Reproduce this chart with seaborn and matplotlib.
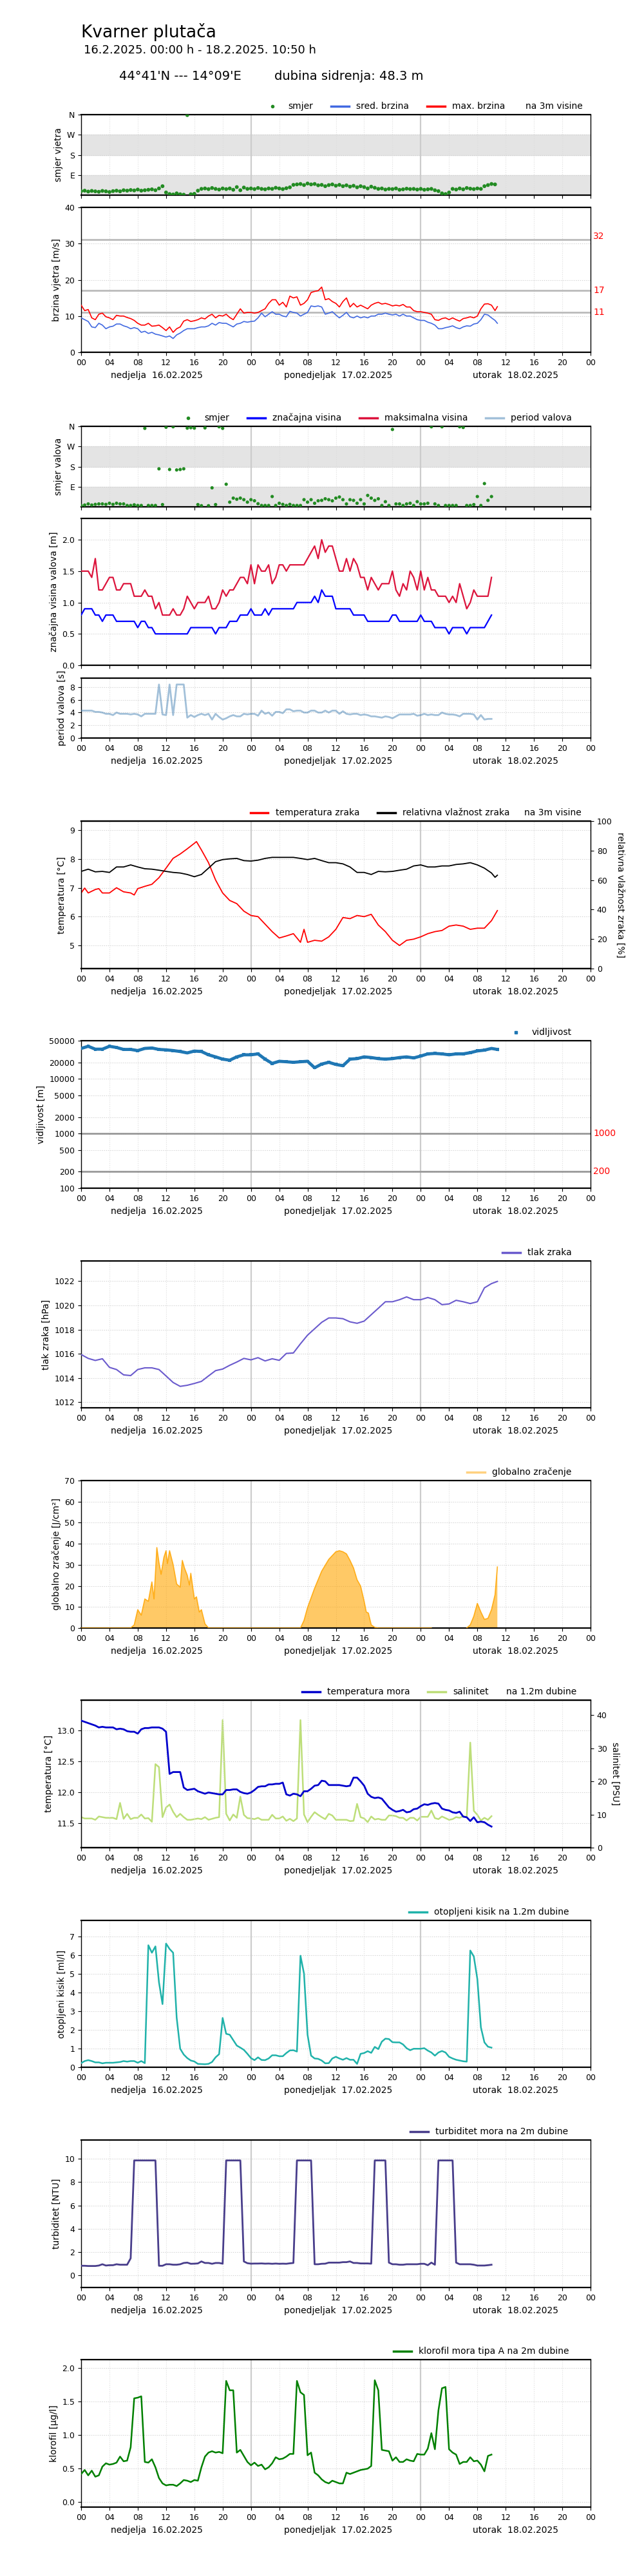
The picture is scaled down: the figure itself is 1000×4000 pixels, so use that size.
import numpy as np
import matplotlib
matplotlib.use("Agg")
import matplotlib.pyplot as plt
import matplotlib.transforms as mtransforms
from matplotlib.lines import Line2D
from matplotlib.ticker import NullLocator
import seaborn as sns

# ---------------- data (hours from 16.02.2025 00:00) ----------------
wind_h = list(np.arange(0, 59, 0.5)) + [58.83]
wind_max = [13.0, 11.5, 11.8, 9.5, 9.0, 10.5, 10.8, 9.8, 9.5, 9.0, 10.2, 10.0, 10.0, 9.6, 9.3, 8.8,
            8.0, 7.5, 7.5, 8.0, 7.2, 7.3, 7.5, 6.8, 6.0, 7.0, 5.5, 6.5, 7.0, 8.6, 9.0, 8.5,
            8.7, 9.0, 9.5, 9.2, 10.0, 10.5, 9.5, 10.2, 10.0, 10.5, 9.6, 9.0, 10.5, 12.0, 10.8, 11.0,
            11.0, 10.8, 11.0, 11.5, 12.0, 13.5, 14.5, 14.5, 13.0, 13.8, 12.5, 15.5, 15.0, 15.3, 13.0, 13.5,
            14.5, 16.5, 16.8, 17.0, 18.0, 14.5, 14.8, 14.0, 13.5, 12.5, 14.0, 15.0, 12.5, 13.5, 12.5, 13.0,
            12.5, 12.0, 13.0, 13.5, 13.8, 13.3, 13.5, 13.2, 12.8, 13.0, 12.8, 13.2, 12.5, 12.5, 11.5, 11.2,
            11.2, 11.0, 10.8, 10.5, 9.0, 8.8, 9.3, 9.5, 9.0, 9.5, 9.0, 8.6, 9.3, 9.5, 9.8, 9.5,
            10.0, 12.0, 13.3, 13.4, 13.0, 11.5, 12.6]
wind_avg = [9.5, 9.0, 8.5, 7.0, 6.8, 8.0, 7.5, 6.5, 7.0, 7.2, 7.8, 7.8, 7.3, 7.0, 6.5, 6.8,
            6.5, 5.5, 5.8, 5.2, 5.5, 5.0, 4.8, 4.5, 4.2, 4.5, 3.8, 4.8, 5.3, 6.0, 6.5, 6.5,
            6.5, 6.8, 7.0, 7.0, 7.3, 8.0, 7.5, 8.2, 8.0, 8.0, 7.5, 7.0, 7.8, 8.0, 8.5, 8.3,
            8.5, 8.6, 9.5, 10.8, 9.8, 10.5, 11.2, 10.5, 10.5, 10.0, 9.8, 11.3, 11.0, 10.8, 10.0, 10.5,
            11.0, 12.8, 12.6, 12.8, 12.5, 10.5, 10.8, 11.2, 10.3, 9.5, 10.2, 11.0, 9.8, 9.5, 10.0, 9.5,
            9.8, 9.5, 10.0, 10.0, 10.5, 10.5, 10.8, 10.5, 10.3, 10.5, 10.0, 10.5, 10.0, 10.0, 9.5, 9.0,
            8.8, 8.8, 8.3, 8.0, 7.5, 6.5, 6.5, 6.8, 7.0, 7.3, 6.8, 6.5, 7.0, 7.3, 7.2, 7.8,
            8.0, 9.0, 10.5, 10.3, 9.5, 8.8, 8.0]
wind_dir_h = np.arange(0, 59, 0.5)
wind_dir = [18, 20, 16, 19, 17, 15, 19, 17, 14, 18, 20, 17,
            22, 20, 23, 21, 25, 20, 22, 24, 26, 22, 30, 40,
            12, 5, 3, 8, 4, 2, 358, 4, 6,
            20, 28, 30, 27, 32, 28, 25, 30, 27, 30,
            24, 36, 22, 34, 28,
            30, 27, 32, 28, 26, 30, 28, 33, 30, 27, 31, 35,
            46, 48, 50, 45, 52, 48, 50,
            44, 46, 40, 45, 48, 42, 46, 40, 44,
            38, 42, 35, 40, 36, 30, 38, 33,
            28, 30, 25, 28, 27, 30, 24, 26, 29, 27, 28, 25, 28, 24, 26, 28, 22, 18,
            8, 5, 12,
            28, 25, 30, 26, 32, 29, 27, 30, 28,
            40, 45, 50, 48]

sea_h = np.arange(0, 58.5, 0.5)
wave_dir = [6, 8, 13, 8, 11, 13, 13, 11, 16, 11, 16, 13, 13, 6, 6, 9, 6, 6, 351, 6,
            6, 6, 170, 10, 356, 167, 358, 165, 167, 170, 352, 354, 352, 10, 5, 353, 5, 85, 10, 358,
            351, 101, 21, 39, 34, 39, 32, 21, 32, 27, 14, 6, 6, 6, 46, 6, 16, 11, 6, 11,
            6, 6, 6, 32, 21, 32, 16, 27, 29, 36, 32, 27, 39, 44, 32, 13, 32, 29, 16, 32,
            13, 51, 39, 29, 36, 6, 23, 6, 346, 13, 13, 6, 13, 16, 6, 23, 13, 13, 16, 358,
            13, 6, 358, 6, 6, 6, 6, 358, 355, 6, 6, 10, 46, 6, 104, 29, 46]
wave_max = [1.5, 1.5, 1.5, 1.4, 1.7, 1.2, 1.2, 1.3, 1.4, 1.4, 1.2, 1.2, 1.3, 1.3, 1.3, 1.1, 1.1, 1.1, 1.2, 1.1,
            1.1, 0.9, 1.0, 0.8, 0.8, 0.8, 0.9, 0.8, 0.8, 0.9, 1.1, 1.0, 0.9, 1.0, 1.0, 1.0, 1.1, 0.9, 0.9, 1.0,
            1.2, 1.1, 1.2, 1.2, 1.3, 1.4, 1.4, 1.3, 1.6, 1.3, 1.6, 1.5, 1.5, 1.6, 1.3, 1.4, 1.6, 1.6, 1.5, 1.6,
            1.6, 1.6, 1.6, 1.6, 1.7, 1.8, 1.9, 1.7, 2.0, 1.8, 1.9, 1.9, 1.7, 1.5, 1.5, 1.7, 1.5, 1.7, 1.6, 1.4,
            1.4, 1.2, 1.4, 1.3, 1.2, 1.3, 1.3, 1.3, 1.5, 1.2, 1.1, 1.3, 1.2, 1.5, 1.4, 1.2, 1.5, 1.2, 1.4, 1.2,
            1.2, 1.1, 1.1, 1.1, 1.0, 1.1, 1.0, 1.3, 1.1, 0.9, 1.0, 1.2, 1.1, 1.1, 1.1, 1.1, 1.4]
wave_sig = [0.8, 0.9, 0.9, 0.9, 0.8, 0.8, 0.7, 0.8, 0.8, 0.8, 0.7, 0.7, 0.7, 0.7, 0.7, 0.7, 0.6, 0.7, 0.7, 0.6,
            0.6, 0.5, 0.5, 0.5, 0.5, 0.5, 0.5, 0.5, 0.5, 0.5, 0.5, 0.6, 0.6, 0.6, 0.6, 0.6, 0.6, 0.6, 0.5, 0.6,
            0.6, 0.6, 0.7, 0.7, 0.7, 0.8, 0.8, 0.8, 0.9, 0.8, 0.8, 0.8, 0.9, 0.8, 0.9, 0.9, 0.9, 0.9, 0.9, 0.9,
            0.9, 1.0, 1.0, 1.0, 1.0, 1.0, 1.1, 1.0, 1.2, 1.1, 1.1, 1.1, 0.9, 0.9, 0.9, 0.9, 0.9, 0.8, 0.8, 0.8,
            0.8, 0.7, 0.7, 0.7, 0.7, 0.7, 0.7, 0.7, 0.8, 0.8, 0.7, 0.7, 0.7, 0.7, 0.7, 0.7, 0.8, 0.7, 0.7, 0.7,
            0.6, 0.6, 0.6, 0.6, 0.5, 0.6, 0.6, 0.6, 0.6, 0.5, 0.6, 0.6, 0.6, 0.6, 0.6, 0.7, 0.8]
wave_period = [4.3, 4.3, 4.3, 4.3, 4.1, 4.1, 4.0, 3.8, 3.8, 3.6, 4.0, 3.8, 3.8, 3.8, 3.7, 3.8, 3.7, 3.4, 3.8, 3.8,
               3.8, 3.8, 8.4, 3.7, 3.6, 8.4, 3.6, 8.4, 8.4, 8.4, 3.2, 3.6, 3.3, 3.6, 3.8, 3.6, 3.8, 2.9, 3.8, 3.3,
               2.9, 3.1, 3.4, 3.6, 3.4, 3.4, 3.8, 3.7, 3.8, 3.8, 3.5, 4.3, 3.8, 4.0, 3.5, 4.1, 4.1, 3.9, 4.5, 4.5,
               4.2, 4.3, 4.3, 4.0, 4.0, 4.3, 4.3, 4.0, 4.0, 4.3, 4.0, 4.3, 4.3, 3.8, 4.2, 3.8, 3.7, 3.8, 3.8, 3.6,
               3.7, 3.6, 3.4, 3.4, 3.3, 3.2, 3.4, 3.3, 3.1, 3.4, 3.7, 3.7, 3.7, 3.7, 3.8, 3.5, 3.6, 3.8, 3.6, 3.7,
               3.6, 3.6, 4.0, 3.8, 3.7, 3.7, 3.6, 3.4, 3.8, 3.8, 3.8, 3.7, 2.9, 3.6, 2.9, 3.0, 3.0]

air_h = [0, 0.5, 1, 2, 2.5, 3, 4, 5, 6, 7, 7.5, 8, 9, 10, 11, 12, 13, 14, 15, 16,
         16.3, 17, 18, 19, 20, 21, 22, 23, 24, 25, 26, 27, 28, 29, 30, 31, 31.5, 32, 33, 34,
         35, 36, 37, 38, 39, 40, 41, 42, 43, 44, 45, 46, 47, 48, 49, 50, 51, 52, 53, 54,
         55, 56, 57, 58, 58.83]
air_temp = [6.82, 6.99, 6.82, 6.94, 6.97, 6.82, 6.82, 7.0, 6.86, 6.82, 6.75, 6.97, 7.05, 7.12, 7.35, 7.68, 8.02, 8.17, 8.35, 8.54,
            8.6, 8.31, 7.87, 7.27, 6.82, 6.56, 6.45, 6.19, 6.04, 6.0, 5.74, 5.48, 5.26, 5.33, 5.41, 5.11, 5.56, 5.11, 5.18, 5.15,
            5.3, 5.56, 5.97, 5.93, 6.04, 6.0, 6.08, 5.71, 5.48, 5.18, 5.0, 5.18, 5.22, 5.3, 5.41, 5.48, 5.52, 5.67, 5.71, 5.67,
            5.56, 5.6, 5.6, 5.86, 6.21]
hum_h = list(range(59)) + [58.5, 58.83]
humidity = [65.9, 67.4, 65.6, 65.9, 65.2, 68.9, 68.9, 70.3, 68.9, 67.7, 67.4, 66.7, 65.9, 65.2, 64.8, 63.8, 62.3, 63.8, 68.1, 72.5,
            73.9, 74.4, 74.7, 73.2, 72.9, 73.5, 74.7, 75.4, 75.4, 75.4, 75.4, 74.7, 73.9, 74.7, 73.2, 71.8, 71.8, 71.0, 68.9, 65.2,
            65.2, 63.8, 65.9, 65.6, 65.9, 66.7, 67.4, 69.6, 70.3, 68.9, 68.9, 69.6, 69.6, 70.6, 71.0, 71.8, 70.3, 68.1, 64.8, 61.9, 63.3]

hourly_h = list(range(59)) + [58.83]
visibility = [36100, 39500, 35000, 35000, 39500, 37600, 34600, 34600, 33000, 36100, 36800, 34600, 34000, 33000, 31700,
              29900, 32300, 31700, 27600, 25300, 23000, 22000, 25300, 27600, 27600, 28700, 23000, 19200, 21000, 20600,
              20100, 20600, 21000, 16000, 18700, 20100, 18400, 17400, 23000, 23500, 25300, 24600, 23500, 23000, 23500,
              24600, 25300, 24200, 26200, 28700, 29200, 28700, 27600, 28700, 28700, 30200, 32500, 33600, 36100, 34600]
pressure = [1015.94, 1015.62, 1015.45, 1015.59, 1014.88, 1014.70, 1014.26, 1014.20, 1014.70, 1014.84,
            1014.84, 1014.70, 1014.17, 1013.63, 1013.31, 1013.40, 1013.55, 1013.72, 1014.17, 1014.61,
            1014.74, 1015.05, 1015.32, 1015.62, 1015.50, 1015.68, 1015.41, 1015.59, 1015.46, 1016.03,
            1016.07, 1016.83, 1017.54, 1018.07, 1018.60, 1018.96, 1018.96, 1018.90, 1018.64, 1018.52,
            1018.70, 1019.23, 1019.76, 1020.30, 1020.30, 1020.47, 1020.70, 1020.47, 1020.47, 1020.65,
            1020.47, 1020.06, 1020.12, 1020.42, 1020.30, 1020.15, 1020.30, 1021.45, 1021.80, 1021.98]

rad_h = [0, 7, 7.5, 8, 8.5, 9, 9.5, 10, 10.3, 10.7, 11, 11.3, 11.7, 12, 12.2, 12.5, 13, 13.5, 14, 14.3,
         14.6, 15, 15.3, 15.5, 16, 16.3, 16.7, 17, 17.5, 18, 31, 31.5, 32, 33, 34, 35, 36, 36.5, 37, 37.5,
         38, 38.5, 39, 39.5, 40, 40.3, 40.6, 41, 41.5, 42, 49.5, 52, 54.5, 55, 55.5, 56, 56.5, 57, 57.5, 58,
         58.5, 58.83]
radiation = [0, 0, 1.5, 8.7, 6.1, 13.8, 12.7, 21.9, 13.8, 38.2, 31.1, 25.5, 33.6, 36.7, 30.6, 36.7, 30.1, 20.9, 19.4, 32.1,
             28.5, 25.0, 20.4, 26.0, 13.8, 14.8, 7.6, 8.7, 2.0, 0, 0, 3.6, 9.7, 18.9, 27.0, 32.6, 36.2, 36.7, 36.2, 35.2,
             32.1, 28.5, 22.9, 19.9, 12.7, 7.6, 7.1, 1.5, 0.3, 0, 0, np.nan, 0, 1.5, 5.6, 11.7, 7.6, 4.1, 4.6, 8.7,
             15.8, 29.0]

sea_temp = [13.16, 13.14, 13.12, 13.10, 13.08, 13.05, 13.06, 13.05, 13.05, 13.05, 13.02, 13.03, 13.02, 12.99, 12.98, 12.98,
            12.95, 13.02, 13.04, 13.04, 13.05, 13.05, 13.05, 13.03, 12.98, 12.30, 12.33, 12.33, 12.33, 12.08, 12.04, 12.05,
            12.06, 12.02, 12.00, 11.98, 12.00, 11.99, 11.98, 11.97, 11.97, 12.04, 12.04, 12.05, 12.05, 12.01, 11.99, 11.98,
            12.00, 12.04, 12.09, 12.10, 12.10, 12.13, 12.13, 12.14, 12.14, 12.16, 11.97, 11.95, 11.98, 11.97, 11.94, 12.02,
            12.02, 12.06, 12.11, 12.12, 12.19, 12.18, 12.12, 12.12, 12.12, 12.12, 12.11, 12.10, 12.11, 12.24, 12.24, 12.18,
            12.11, 11.98, 11.93, 11.91, 11.92, 11.90, 11.83, 11.76, 11.72, 11.69, 11.70, 11.72, 11.68, 11.69, 11.73, 11.74,
            11.78, 11.81, 11.80, 11.82, 11.83, 11.82, 11.74, 11.72, 11.71, 11.68, 11.67, 11.69, 11.61, 11.60, 11.54, 11.60,
            11.52, 11.53, 11.52, 11.48, 11.45]
salinity = [9.2, 8.8, 8.8, 8.8, 8.4, 9.4, 9.2, 9.0, 9.0, 9.0, 8.6, 13.5, 8.7, 10.2, 8.6, 9.0, 9.0, 10.0, 8.8, 8.9,
            7.8, 25.2, 24.3, 9.2, 12.1, 13.0, 10.8, 9.2, 10.2, 9.2, 8.4, 8.4, 8.6, 8.8, 8.6, 9.2, 8.4, 8.7, 9.0, 9.2,
            38.5, 10.2, 8.2, 10.0, 9.0, 15.4, 9.9, 8.9, 8.8, 8.6, 9.0, 8.4, 8.4, 8.4, 9.9, 8.8, 8.8, 9.4, 8.1, 8.7,
            8.0, 8.8, 38.5, 10.0, 7.7, 9.3, 10.7, 9.9, 9.2, 8.6, 10.2, 9.7, 8.4, 8.4, 8.4, 8.4, 8.0, 8.1, 13.2, 9.2,
            8.8, 7.7, 9.4, 8.5, 8.7, 8.4, 8.4, 9.7, 9.7, 9.5, 9.0, 9.0, 8.2, 9.0, 9.0, 8.2, 9.3, 9.3, 9.3, 11.2,
            8.9, 8.6, 9.4, 8.9, 8.4, 8.6, 9.2, 9.0, 9.5, 9.2, 31.7, 11.1, 9.9, 8.2, 9.0, 8.4, 9.5]
oxygen = [0.22, 0.33, 0.38, 0.33, 0.26, 0.26, 0.21, 0.24, 0.24, 0.24, 0.26, 0.28, 0.33, 0.30, 0.33, 0.33, 0.24, 0.33, 0.22, 6.53,
          6.13, 6.47, 4.55, 3.38, 6.62, 6.33, 6.13, 2.66, 0.99, 0.68, 0.49, 0.36, 0.31, 0.18, 0.17, 0.16, 0.18, 0.28, 0.53, 0.70,
          2.64, 1.79, 1.74, 1.45, 1.16, 1.05, 0.93, 0.72, 0.49, 0.38, 0.53, 0.39, 0.38, 0.47, 0.64, 0.64, 0.59, 0.59, 0.76, 0.90,
          0.91, 0.84, 5.97, 5.01, 1.74, 0.62, 0.47, 0.45, 0.36, 0.21, 0.22, 0.47, 0.56, 0.47, 0.40, 0.49, 0.40, 0.40, 0.18, 0.72,
          0.76, 0.86, 0.77, 1.09, 0.97, 1.37, 1.53, 1.51, 1.34, 1.33, 1.33, 1.22, 1.02, 0.91, 0.99, 0.99, 0.99, 1.02, 0.89, 0.79,
          0.62, 0.79, 0.87, 0.79, 0.56, 0.47, 0.40, 0.36, 0.32, 0.30, 6.25, 5.93, 4.72, 2.14, 1.33, 1.10, 1.05]
turbidity = [0.83, 0.83, 0.81, 0.81, 0.81, 0.85, 0.96, 0.85, 0.88, 0.88, 0.96, 0.92, 0.92, 0.92, 1.47, 9.85, 9.85, 9.85, 9.85, 9.85,
             9.85, 9.85, 0.83, 0.83, 0.96, 0.96, 0.92, 0.92, 0.96, 1.07, 1.10, 1.00, 1.01, 1.03, 1.20, 1.07, 1.07, 1.00, 1.07, 1.07,
             1.01, 9.85, 9.85, 9.85, 9.85, 9.85, 1.20, 1.05, 1.01, 1.02, 1.02, 1.03, 1.01, 1.02, 1.00, 1.02, 1.00, 1.01, 1.00, 1.04,
             1.07, 9.85, 9.85, 9.85, 9.85, 9.85, 0.96, 0.96, 1.00, 1.01, 1.10, 1.10, 1.10, 1.10, 1.14, 1.14, 1.20, 1.07, 1.07, 1.03,
             1.03, 1.03, 1.01, 9.85, 9.85, 9.85, 9.85, 1.10, 0.96, 0.96, 0.92, 0.92, 0.96, 0.96, 0.96, 0.96, 1.00, 1.00, 0.88, 1.10,
             0.92, 9.85, 9.85, 9.85, 9.85, 9.85, 1.10, 0.96, 0.96, 0.96, 0.96, 0.92, 0.85, 0.85, 0.85, 0.88, 0.92]
chlorophyll = [0.42, 0.48, 0.40, 0.47, 0.38, 0.40, 0.53, 0.58, 0.56, 0.57, 0.59, 0.68, 0.61, 0.62, 0.82, 1.55, 1.56, 1.58, 0.60, 0.59,
               0.64, 0.52, 0.36, 0.28, 0.25, 0.26, 0.26, 0.24, 0.28, 0.33, 0.32, 0.30, 0.33, 0.32, 0.52, 0.68, 0.74, 0.76, 0.74, 0.75,
               0.73, 1.81, 1.67, 1.67, 0.74, 0.78, 0.69, 0.60, 0.55, 0.59, 0.54, 0.56, 0.49, 0.52, 0.58, 0.67, 0.64, 0.65, 0.68, 0.72,
               0.72, 1.81, 1.64, 1.60, 0.70, 0.74, 0.44, 0.40, 0.34, 0.30, 0.28, 0.32, 0.30, 0.28, 0.28, 0.44, 0.42, 0.44, 0.46, 0.48,
               0.49, 0.50, 0.54, 1.82, 1.67, 0.78, 0.77, 0.76, 0.62, 0.67, 0.60, 0.60, 0.64, 0.62, 0.61, 0.72, 0.71, 0.71, 0.80, 1.03,
               0.79, 1.37, 1.70, 1.72, 0.79, 0.74, 0.71, 0.57, 0.60, 0.60, 0.67, 0.61, 0.62, 0.56, 0.46, 0.69, 0.71]

day_names = ["nedjelja  16.02.2025", "ponedjeljak  17.02.2025", "utorak  18.02.2025"]
day_pos = [0.149, 0.504, 0.853]
hour_ticks = list(range(0, 73, 4))

# ---------------- figure ----------------
plt.rcParams['font.family'] = ['DejaVu Sans']
W, H = 1000, 4000
LEFT, RIGHT = 126, 917
fig = plt.figure(figsize=(10, 40), dpi=100)


def panel(top, bottom):
    return fig.add_axes([LEFT / W, 1 - bottom / H, (RIGHT - LEFT) / W, (bottom - top) / H])


def style(ax, xlabels=True):
    ax.set_xlim(0, 72)
    ax.set_xticks(hour_ticks)
    ax.set_xlabel("")
    ax.tick_params(labelsize=9)
    if xlabels:
        ax.set_xticklabels(["%02d" % (h % 24) for h in hour_ticks])
        tr = mtransforms.offset_copy(ax.transAxes, fig=fig, y=-36, units='dots')
        for name, pos in zip(day_names, day_pos):
            ax.text(pos, 0, name, transform=tr, ha='center', va='center', fontsize=10)
    else:
        ax.tick_params(axis='x', labelbottom=False)
    for h in hour_ticks[1:-1]:
        if h % 24 == 0:
            ax.axvline(h, color='#cccccc', lw=1.6, zorder=0.6)
        else:
            ax.axvline(h, color='#dddddd', lw=0.8, ls=':', zorder=0.6)
    ax.grid(axis='y', color='#cccccc', lw=0.8, ls=':')
    ax.set_axisbelow(True)
    for s in ax.spines.values():
        s.set_linewidth(1.0)
    ax.spines['top'].set_linewidth(1.6)
    ax.spines['bottom'].set_linewidth(1.6)


def legend(ax, handles, labels, x):
    ax.legend(handles, labels, loc='lower right', bbox_to_anchor=(x, 1.0), ncol=len(handles),
              frameon=False, fontsize=10, borderaxespad=0.0)


def note(ax, text, x):
    tr = mtransforms.offset_copy(ax.transAxes, fig=fig, y=13, units='dots')
    ax.text(x, 1.0, text, transform=tr, ha='right', va='center', fontsize=10)


def line_handle(color, alpha=1.0):
    return Line2D([], [], color=color, lw=2.5, alpha=alpha)


def dot_handle(color, marker='o'):
    return Line2D([], [], color=color, marker=marker, ls='none', markersize=3)


# titles
fig.text(126 / W, 1 - 50 / H, "Kvarner plutača", fontsize=19, va='center')
fig.text(130 / W, 1 - 78 / H, "16.2.2025. 00:00 h - 18.2.2025. 10:50 h", fontsize=13, va='center')
fig.text(185 / W, 1 - 118 / H, "44°41'N --- 14°09'E", fontsize=14, va='center')
fig.text(426 / W, 1 - 118 / H, "dubina sidrenja: 48.3 m", fontsize=14, va='center')


def compass(ax, label):
    ax.axhspan(0, 90, color='#e4e4e4', zorder=0.5)
    ax.axhspan(180, 270, color='#e4e4e4', zorder=0.5)
    ax.set_ylim(0, 360)
    ax.set_yticks([90, 180, 270, 360])
    ax.set_yticklabels(['E', 'S', 'W', 'N'])
    ax.set_ylabel(label, fontsize=10)


# 1. wind direction
ax = panel(178, 303)
sns.scatterplot(x=wind_dir_h, y=wind_dir, ax=ax, color='forestgreen', s=18, edgecolor='none', zorder=3)
style(ax, xlabels=False)
compass(ax, "smjer vjetra")
legend(ax, [dot_handle('forestgreen'), line_handle('royalblue'), line_handle('red')],
       ["smjer", "sred. brzina", "max. brzina"], 0.839)
note(ax, "na 3m visine", 0.985)

# 2. wind speed
ax = panel(322, 547)
sns.lineplot(x=wind_h, y=wind_avg, ax=ax, color='royalblue', lw=1.2, zorder=3)
sns.lineplot(x=wind_h, y=wind_max, ax=ax, color='red', lw=1.2, zorder=3)
style(ax)
ax.set_ylim(0, 40)
ax.set_yticks([0, 10, 20, 30, 40])
ax.set_ylabel("brzina vjetra [m/s]", fontsize=10)
blend = mtransforms.blended_transform_factory(ax.transAxes, ax.transData)
for level, label in [(31.1, 32), (17, 17), (11, 11)]:
    ax.axhline(level, color='#bbbbbb', lw=2, zorder=1)
    ax.text(1.005, label, str(label), transform=blend, color='red', fontsize=10, va='center', ha='left')

# 3. wave direction
ax = panel(662, 787)
sns.scatterplot(x=sea_h, y=wave_dir, ax=ax, color='forestgreen', s=14, edgecolor='none', zorder=3)
style(ax, xlabels=False)
compass(ax, "smjer valova")
legend(ax, [dot_handle('forestgreen'), line_handle('blue'), line_handle('crimson'),
            line_handle('steelblue', 0.5)],
       ["smjer", "značajna visina", "maksimalna visina", "period valova"], 0.970)

# 4. wave heights
ax = panel(805, 1033)
sns.lineplot(x=sea_h, y=wave_max, ax=ax, color='crimson', lw=1.6, zorder=3)
sns.lineplot(x=sea_h, y=wave_sig, ax=ax, color='blue', lw=1.6, zorder=3)
style(ax, xlabels=False)
ax.set_ylim(0, 2.34)
ax.set_yticks([0, 0.5, 1.0, 1.5, 2.0])
ax.set_yticklabels(['0.0', '0.5', '1.0', '1.5', '2.0'])
ax.set_ylabel("značajna visina valova [m]", fontsize=10)

# 5. wave period
ax = panel(1053, 1146)
sns.lineplot(x=sea_h, y=wave_period, ax=ax, color='steelblue', alpha=0.5, lw=2, zorder=3)
style(ax)
ax.set_ylim(0, 9.4)
ax.set_yticks([0, 2, 4, 6, 8])
ax.set_ylabel("period valova [s]", fontsize=10)

# 6. air temperature + humidity
ax = panel(1275, 1504)
sns.lineplot(x=air_h, y=air_temp, ax=ax, color='red', lw=1.3, zorder=3)
style(ax)
ax.set_ylim(4.2, 9.31)
ax.set_yticks([5, 6, 7, 8, 9])
ax.set_ylabel("temperatura [°C]", fontsize=10)
ax2 = ax.twinx()
sns.lineplot(x=hum_h, y=humidity, ax=ax2, color='black', lw=1.3)
ax2.set_ylim(0, 100)
ax2.set_yticks([0, 20, 40, 60, 80, 100])
ax2.tick_params(labelsize=9)
ax2.set_ylabel("relativna vlažnost zraka [%]", fontsize=10, rotation=270, labelpad=14)
ax2.spines['top'].set_linewidth(1.6)
ax2.spines['bottom'].set_linewidth(1.6)
legend(ax2, [line_handle('red'), line_handle('black')],
       ["temperatura zraka", "relativna vlažnost zraka"], 0.848)
note(ax2, "na 3m visine", 0.982)

# 7. visibility
ax = panel(1616, 1845)
sns.lineplot(x=hourly_h, y=visibility, ax=ax, color='#1f77b4', lw=3.5, zorder=3)
sns.scatterplot(x=hourly_h, y=visibility, ax=ax, color='#1f77b4', s=12, marker='s', edgecolor='none', zorder=3)
ax.set_yscale('log')
style(ax)
ax.set_ylim(100, 50000)
vis_ticks = [100, 200, 500, 1000, 2000, 5000, 10000, 20000, 50000]
ax.set_yticks(vis_ticks)
ax.set_yticklabels([str(v) for v in vis_ticks])
ax.yaxis.set_minor_locator(NullLocator())
ax.set_ylabel("vidljivost [m]", fontsize=10)
blend = mtransforms.blended_transform_factory(ax.transAxes, ax.transData)
for level in [1000, 200]:
    ax.axhline(level, color='#999999', lw=2, zorder=1)
    ax.text(1.005, level, str(level), transform=blend, color='red', fontsize=10, va='center', ha='left')
legend(ax, [dot_handle('#1f77b4', 's')], ["vidljivost"], 0.970)

# 8. pressure
ax = panel(1958, 2186)
sns.lineplot(x=hourly_h, y=pressure, ax=ax, color='slateblue', lw=1.5, zorder=3)
style(ax)
ax.set_ylim(1011.54, 1023.67)
ax.set_yticks([1012, 1014, 1016, 1018, 1020, 1022])
ax.set_ylabel("tlak zraka [hPa]", fontsize=10)
legend(ax, [line_handle('slateblue')], ["tlak zraka"], 0.970)

# 9. global radiation
ax = panel(2299, 2528)
ax.fill_between(rad_h, 0, radiation, color='orange', alpha=0.6, lw=0, zorder=2)
ax.plot(rad_h, radiation, color='orange', alpha=0.85, lw=1.2, zorder=3)
style(ax)
ax.set_ylim(0, 70)
ax.set_yticks(range(0, 71, 10))
ax.set_ylabel("globalno zračenje [J/cm²]", fontsize=10)
legend(ax, [line_handle('orange', 0.5)], ["globalno zračenje"], 0.970)

# 10. sea temperature + salinity
ax = panel(2640, 2869)
sns.lineplot(x=sea_h, y=sea_temp, ax=ax, color='mediumblue', lw=2, zorder=3)
style(ax)
ax.set_ylim(11.11, 13.49)
ax.set_yticks([11.5, 12.0, 12.5, 13.0])
ax.set_yticklabels(['11.5', '12.0', '12.5', '13.0'])
ax.set_ylabel("temperatura [°C]", fontsize=10)
ax2 = ax.twinx()
sns.lineplot(x=sea_h, y=salinity, ax=ax2, color='yellowgreen', alpha=0.65, lw=1.8)
ax2.set_ylim(0, 44.5)
ax2.set_yticks([0, 10, 20, 30, 40])
ax2.tick_params(labelsize=9)
ax2.set_ylabel("salinitet [PSU]", fontsize=10, rotation=270, labelpad=14)
ax2.spines['top'].set_linewidth(1.6)
ax2.spines['bottom'].set_linewidth(1.6)
ax.set_zorder(ax2.get_zorder() + 1)
ax.patch.set_visible(False)
legend(ax, [line_handle('mediumblue'), line_handle('yellowgreen', 0.65)],
       ["temperatura mora", "salinitet"], 0.807)
note(ax, "na 1.2m dubine", 0.972)

# 11. dissolved oxygen
ax = panel(2982, 3210)
sns.lineplot(x=sea_h, y=oxygen, ax=ax, color='lightseagreen', lw=1.8, zorder=3)
style(ax)
ax.set_ylim(0, 7.86)
ax.set_yticks(range(0, 8))
ax.set_ylabel("otopljeni kisik [ml/l]", fontsize=10)
legend(ax, [line_handle('lightseagreen')], ["otopljeni kisik na 1.2m dubine"], 0.965)

# 12. turbidity
ax = panel(3323, 3552)
sns.lineplot(x=sea_h, y=turbidity, ax=ax, color='darkslateblue', lw=2, zorder=3)
style(ax)
ax.set_ylim(-1.03, 11.6)
ax.set_yticks(range(0, 11, 2))
ax.set_ylabel("turbiditet [NTU]", fontsize=10)
legend(ax, [line_handle('darkslateblue')], ["turbiditet mora na 2m dubine"], 0.963)

# 13. chlorophyll
ax = panel(3664, 3893)
sns.lineplot(x=sea_h, y=chlorophyll, ax=ax, color='green', lw=1.8, zorder=3)
style(ax)
ax.set_ylim(-0.074, 2.128)
ax.set_yticks([0, 0.5, 1.0, 1.5, 2.0])
ax.set_yticklabels(['0.0', '0.5', '1.0', '1.5', '2.0'])
ax.set_ylabel("klorofil [µg/l]", fontsize=10)
legend(ax, [line_handle('green')], ["klorofil mora tipa A na 2m dubine"], 0.965)

fig.savefig("out.png", dpi=100)
